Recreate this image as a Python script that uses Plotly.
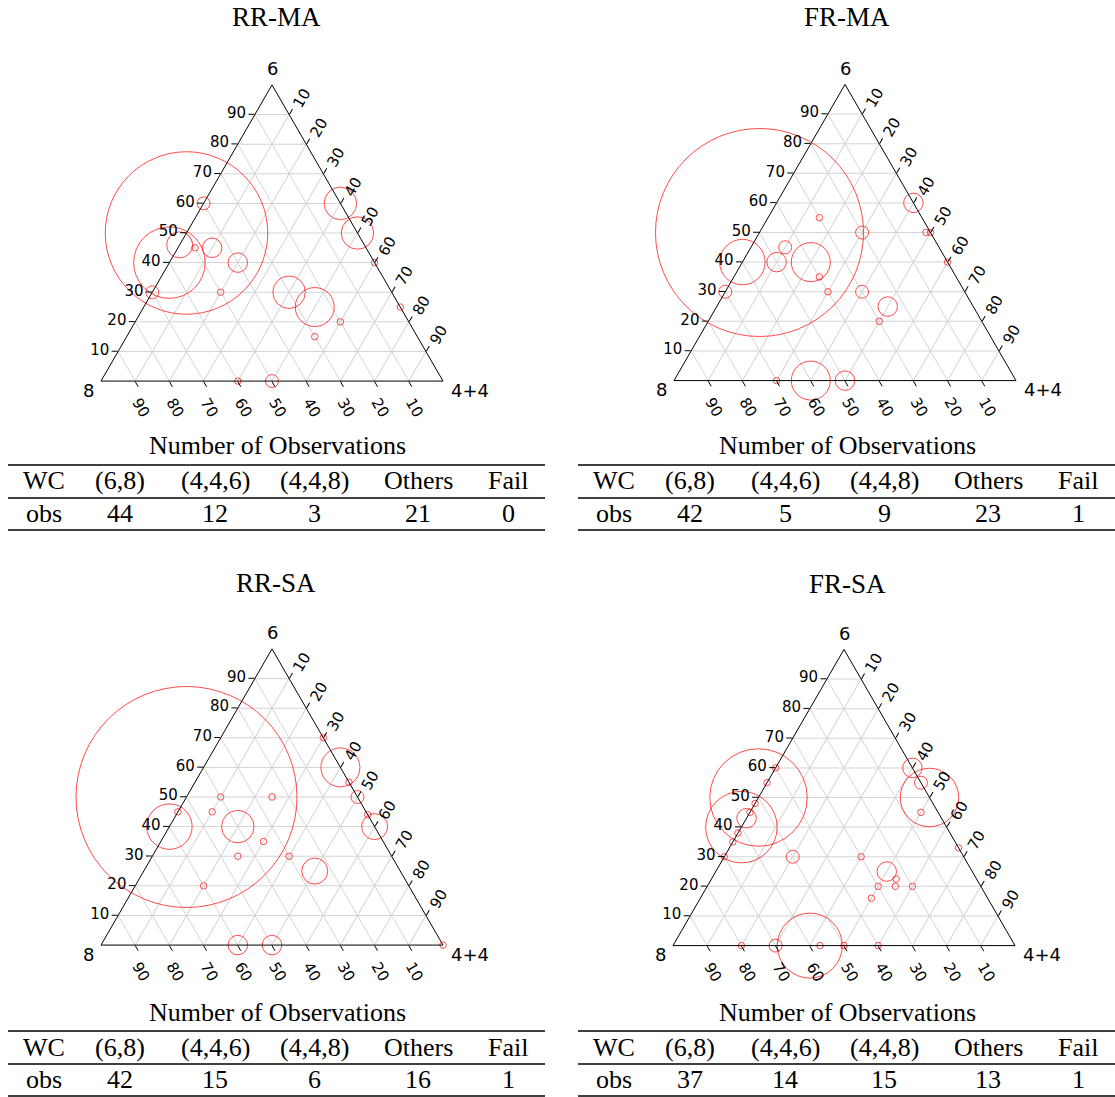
import math
import plotly.graph_objects as go

# ---------------- data ----------------
panel_titles = ["RR-MA", "FR-MA", "RR-SA", "FR-SA"]
corner_labels = ["6", "8", "4+4"]
tick_values = [10, 20, 30, 40, 50, 60, 70, 80, 90]
table_header = ["WC", "(6,8)", "(4,4,6)", "(4,4,8)", "Others", "Fail"]
table_row_label = "obs"
table_caption = "Number of Observations"

# RR-MA : share of "6", share of "8", share of "4+4", number of observations
rrma_6 = [50, 40, 46, 45, 45, 40, 60, 30, 30, 60, 50, 40, 25, 30, 25, 20, 15, 0, 0]
rrma_8 = [50, 60, 54, 50, 45, 40, 40, 70, 50, 0, 0, 0, 0, 30, 25, 20, 30, 60, 50]
rrma_44 = [0, 0, 0, 5, 10, 20, 0, 0, 20, 40, 50, 60, 75, 40, 50, 60, 55, 40, 50]
rrma_n = [25, 11, 4, 1, 3, 3, 2, 2, 1, 5, 5, 1, 1, 5, 6, 1, 1, 1, 2]
rrma_obs = [44, 12, 3, 21, 0]

# FR-MA
frma_6 = [50, 40, 30, 40, 45, 40, 55, 35, 30, 50, 30, 25, 20, 60, 50, 50, 40, 0, 0, 0]
frma_8 = [50, 60, 70, 50, 45, 40, 30, 40, 40, 20, 30, 25, 30, 0, 1.3, 0, 0, 60, 50, 70]
frma_44 = [0, 0, 0, 10, 10, 20, 15, 25, 30, 30, 40, 50, 50, 40, 48.7, 50, 60, 40, 50, 30]
frma_n = [32, 7, 2, 3, 2, 6, 1, 1, 1, 2, 2, 3, 1, 3, 1, 1, 1, 6, 3, 1]
frma_obs = [42, 5, 9, 23, 1]

# RR-SA
rrsa_6 = [50, 40, 45, 50, 45, 40, 50, 35, 30, 30, 20, 25, 70, 60, 55, 50, 44, 40, 0, 0, 0]
rrsa_8 = [50, 60, 55, 40, 45, 40, 25, 35, 45, 30, 60, 25, 0, 0, 0, 0, 0, 0, 0, 60, 50]
rrsa_44 = [0, 0, 0, 10, 10, 20, 25, 30, 25, 40, 20, 50, 30, 40, 45, 50, 56, 60, 100, 40, 50]
rrsa_n = [34, 7, 1, 1, 1, 5, 1, 1, 1, 1, 1, 4, 1, 6, 1, 2, 1, 4, 1, 3, 3]
rrsa_obs = [42, 15, 6, 16, 1]

# FR-SA
frsa_6 = [50, 40, 43, 60, 55, 48, 45, 38, 35, 30, 30, 30, 25, 22.5, 20, 20, 20, 16,
          60, 55, 50, 45, 33, 0, 0, 0, 0, 0, 0]
frsa_8 = [50, 60, 57, 40, 45, 52, 55, 62, 65, 70, 50, 30, 25, 23.5, 30, 25, 20, 34,
          0, 0, 0, 5, 0, 60, 70, 80, 57, 50, 40]
frsa_44 = [0, 0, 0, 0, 0, 0, 0, 0, 0, 0, 20, 40, 50, 54, 50, 55, 60, 50,
           40, 45, 50, 50, 67, 40, 30, 20, 43, 50, 60]
frsa_n = [15, 11, 3, 1, 1, 1, 1, 1, 1, 1, 2, 1, 3, 1, 1, 1, 1, 1,
          3, 2, 9, 1, 1, 10, 2, 1, 1, 1, 1]
frsa_obs = [37, 14, 15, 13, 1]

panels = [
    (rrma_6, rrma_8, rrma_44, rrma_n, rrma_obs),
    (frma_6, frma_8, frma_44, frma_n, frma_obs),
    (rrsa_6, rrsa_8, rrsa_44, rrsa_n, rrsa_obs),
    (frsa_6, frsa_8, frsa_44, frsa_n, frsa_obs),
]

# ---------------- layout / style ----------------
FW, FH = 1115, 1097
TRI_W = 342.0
TRI_H = TRI_W * math.sqrt(3) / 2
SIZE_PER_OBS = 6.5
centers = [(272, 233), (845, 232.5), (272, 797), (844, 797.5)]
title_pos = [(276, 17), (847, 17), (276, 583), (847, 584)]
table_x_off = [0, 570, 0, 570]
table_y_off = [0, 0, 566, 566]
col_x = [44, 120, 215, 314, 418, 508]

SANS = "DejaVu Sans"
SERIF = "Liberation Serif"


def px(x):
    return x / FW


def py(y):
    return 1 - y / FH


fig = go.Figure()
annotations = []
shapes = []

base_axis = dict(
    min=0,
    tickvals=tick_values,
    ticks="outside",
    ticklen=6,
    tickcolor="black",
    tickwidth=1,
    linecolor="black",
    linewidth=1,
    showline=True,
    showgrid=True,
    gridcolor="#d4d4d4",
    gridwidth=1,
    tickfont=dict(family=SANS, size=15, color="black"),
    title=dict(text=""),
)
a_axis = dict(base_axis)
b_axis = dict(base_axis, tickangle=60)
c_axis = dict(base_axis, tickangle=-60)

for i, (a6, b8, c44, n, obs) in enumerate(panels):
    tid = "ternary" if i == 0 else f"ternary{i + 1}"
    cx, cy = centers[i]
    x0, x1 = cx - TRI_W / 2, cx + TRI_W / 2
    ytop, ybot = cy - TRI_H / 2, cy + TRI_H / 2
    fig.update_layout({
        tid: dict(
            domain=dict(x=[px(x0), px(x1)], y=[py(ybot + 3), py(ytop - 3)]),
            sum=100,
            bgcolor="white",
            aaxis=a_axis,
            baxis=b_axis,
            caxis=c_axis,
        )
    })
    fig.add_trace(go.Scatterternary(
        a=a6, b=b8, c=c44,
        mode="markers",
        subplot=tid,
        cliponaxis=False,
        showlegend=False,
        marker=dict(
            symbol="circle",
            size=[k * SIZE_PER_OBS for k in n],
            color="rgba(0,0,0,0)",
            line=dict(color="red", width=1),
        ),
    ))

    # corner labels
    annotations.append(dict(text=corner_labels[0], x=px(cx), y=py(ytop - 16),
                            xref="paper", yref="paper", showarrow=False,
                            xanchor="center", yanchor="middle",
                            font=dict(family=SANS, size=18, color="black")))
    annotations.append(dict(text=corner_labels[1], x=px(x0 - 5), y=py(ybot + 9),
                            xref="paper", yref="paper", showarrow=False,
                            xanchor="right", yanchor="middle",
                            font=dict(family=SANS, size=18, color="black")))
    annotations.append(dict(text=corner_labels[2], x=px(x1 + 6), y=py(ybot + 9),
                            xref="paper", yref="paper", showarrow=False,
                            xanchor="left", yanchor="middle",
                            font=dict(family=SANS, size=18, color="black")))

    # panel title
    tx, ty = title_pos[i]
    annotations.append(dict(text=panel_titles[i], x=px(tx), y=py(ty),
                            xref="paper", yref="paper", showarrow=False,
                            xanchor="center", yanchor="middle",
                            font=dict(family=SERIF, size=27, color="black")))

    # table
    ox, oy = table_x_off[i], table_y_off[i]
    annotations.append(dict(text=table_caption, x=px(ox + 277), y=py(oy + 446),
                            xref="paper", yref="paper", showarrow=False,
                            xanchor="center", yanchor="middle",
                            font=dict(family=SERIF, size=26, color="black")))
    row_vals = [table_row_label] + [str(v) for v in obs]
    for j in range(6):
        annotations.append(dict(text=table_header[j], x=px(ox + col_x[j]), y=py(oy + 481),
                                xref="paper", yref="paper", showarrow=False,
                                xanchor="center", yanchor="middle",
                                font=dict(family=SERIF, size=26, color="black")))
        annotations.append(dict(text=row_vals[j], x=px(ox + col_x[j]), y=py(oy + 513),
                                xref="paper", yref="paper", showarrow=False,
                                xanchor="center", yanchor="middle",
                                font=dict(family=SERIF, size=26, color="black")))
    for ly in (465, 498, 530):
        yy = min(oy + ly, FH - 1)
        shapes.append(dict(type="line", xref="paper", yref="paper",
                           x0=px(ox + 8), x1=px(min(ox + 545, FW)),
                           y0=py(yy), y1=py(yy),
                           line=dict(color="black", width=1.3)))

fig.update_layout(
    width=FW, height=FH,
    autosize=False,
    margin=dict(l=0, r=0, t=0, b=0),
    paper_bgcolor="white",
    plot_bgcolor="white",
    annotations=annotations,
    shapes=shapes,
    font=dict(family=SANS, color="black"),
)

fig.write_html("out.html", config={"displayModeBar": False},
               post_script="document.body.style.margin='0';")
